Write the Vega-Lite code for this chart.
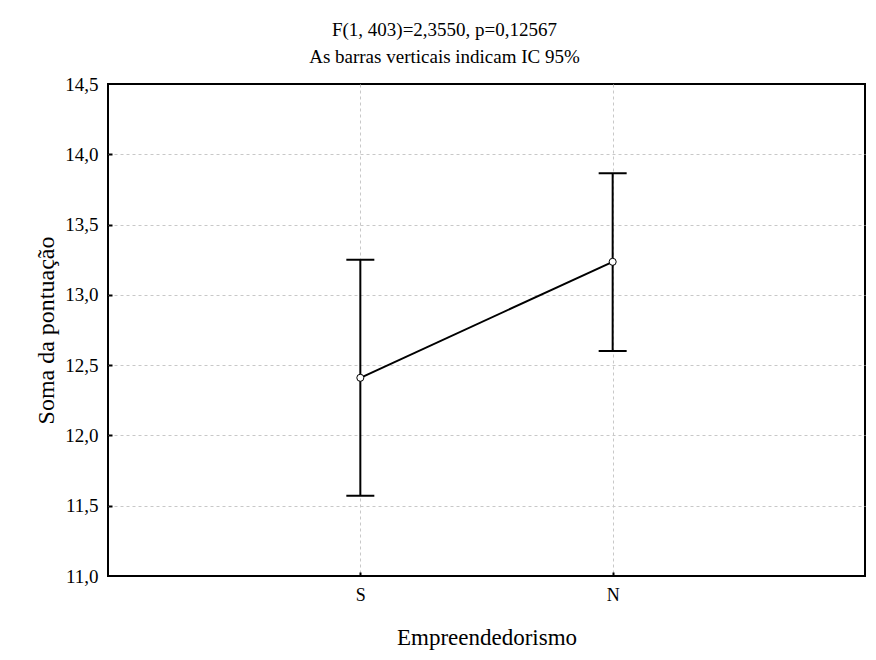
{
  "$schema": "https://vega.github.io/schema/vega-lite/v6.json",
  "autosize": "none",
  "width": 757,
  "height": 492,
  "padding": {"left": 108, "top": 84, "right": 11, "bottom": 84},
  "background": "white",
  "title": {
    "text": "F(1, 403)=2,3550, p=0,12567",
    "subtitle": "As barras verticais indicam IC 95%",
    "anchor": "middle",
    "dx": -42,
    "offset": 8,
    "font": "Liberation Serif",
    "fontSize": 19,
    "fontWeight": "normal",
    "color": "black",
    "subtitleFont": "Liberation Serif",
    "subtitleFontSize": 19,
    "subtitleColor": "black",
    "subtitlePadding": 8
  },
  "config": {
    "locale": {"number": {"decimal": ",", "thousands": ".", "grouping": [3], "currency": ["", ""]}},
    "view": {"stroke": "black", "strokeWidth": 2},
    "font": "Liberation Serif",
    "axis": {
      "domain": false,
      "grid": true,
      "gridColor": "#c8c8c8",
      "gridDash": [3, 3],
      "gridWidth": 1,
      "tickColor": "black",
      "tickSize": -4,
      "tickWidth": 2,
      "labelFont": "Liberation Serif",
      "labelColor": "black",
      "titleFont": "Liberation Serif",
      "titleFontWeight": "normal",
      "titleColor": "black"
    }
  },
  "data": {
    "values": [
      {"group": "S", "mean": 12.41, "lo": 11.57, "hi": 13.25},
      {"group": "N", "mean": 13.235, "lo": 12.60, "hi": 13.865}
    ]
  },
  "encoding": {
    "x": {
      "field": "group",
      "type": "nominal",
      "sort": ["S", "N"],
      "scale": {"type": "point", "padding": 1},
      "title": "Empreendedorismo",
      "axis": {"labelAngle": 0, "labelFontSize": 18, "labelPadding": 14, "titleFontSize": 23, "titlePadding": 22}
    }
  },
  "layer": [
    {
      "mark": {"type": "rule", "color": "black", "strokeWidth": 2},
      "encoding": {
        "y": {"field": "lo", "type": "quantitative"},
        "y2": {"field": "hi"}
      }
    },
    {
      "mark": {"type": "tick", "color": "black", "size": 28, "thickness": 2, "orient": "horizontal", "opacity": 1},
      "encoding": {"y": {"field": "lo", "type": "quantitative"}}
    },
    {
      "mark": {"type": "tick", "color": "black", "size": 28, "thickness": 2, "orient": "horizontal", "opacity": 1},
      "encoding": {"y": {"field": "hi", "type": "quantitative"}}
    },
    {
      "mark": {"type": "line", "color": "black", "strokeWidth": 2},
      "encoding": {
        "y": {
          "field": "mean",
          "type": "quantitative",
          "scale": {"domain": [11, 14.5], "zero": false, "nice": false},
          "axis": {
            "values": [11, 11.5, 12, 12.5, 13, 13.5, 14, 14.5],
            "format": ".1f",
            "labelFontSize": 19,
            "labelPadding": 14,
            "titleFontSize": 24,
            "titlePadding": 6,
            "gridOpacity": {"condition": {"test": "datum.value <= 11 || datum.value >= 14.5", "value": 0}, "value": 1},
            "tickOpacity": {"condition": {"test": "datum.value <= 11 || datum.value >= 14.5", "value": 0}, "value": 1}
          },
          "title": "Soma da pontuação"
        }
      }
    },
    {
      "mark": {"type": "point", "filled": true, "fill": "white", "stroke": "black", "strokeWidth": 1, "size": 50, "opacity": 1},
      "encoding": {"y": {"field": "mean", "type": "quantitative"}}
    }
  ]
}
